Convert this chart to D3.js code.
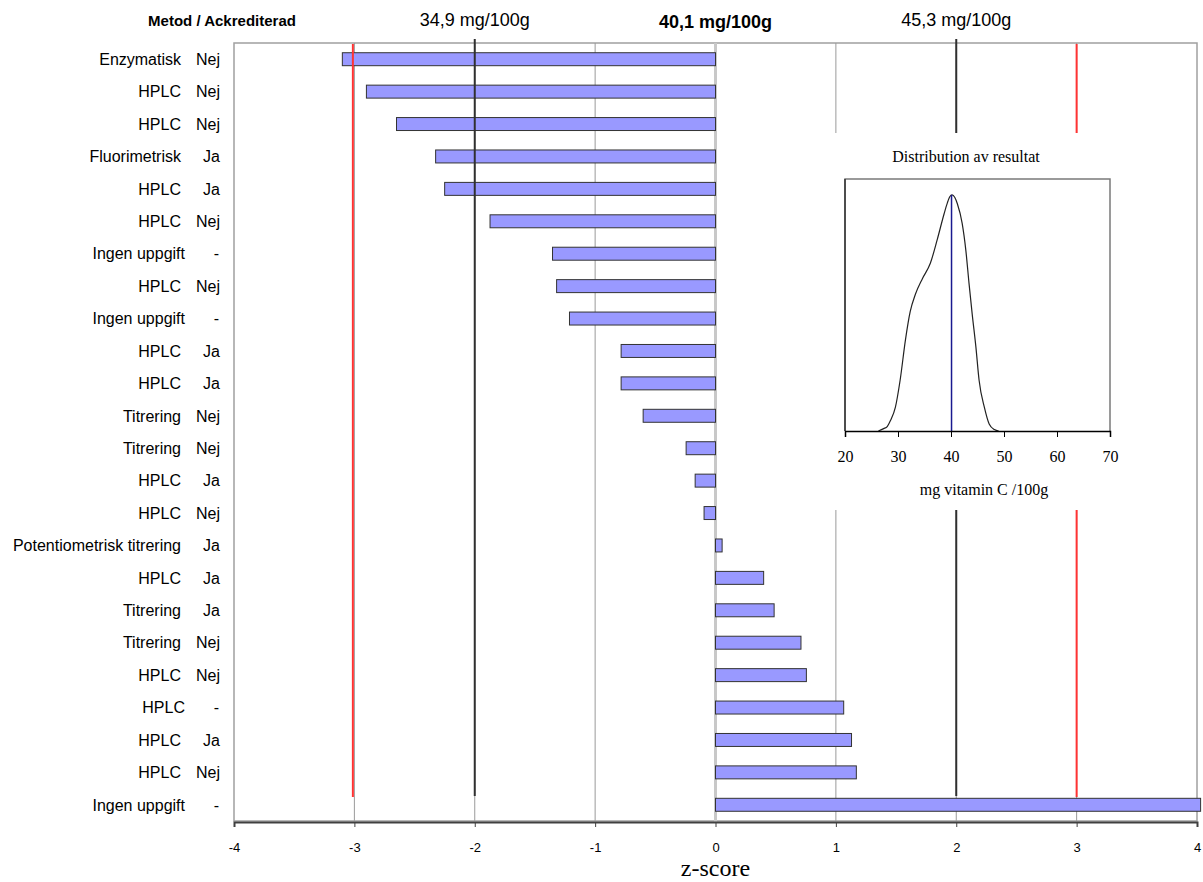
<!DOCTYPE html>
<html>
<head>
<meta charset="utf-8">
<script src="https://cdn.jsdelivr.net/npm/d3@7"></script>
<style>
  body { margin: 0; background: #fff; }
  svg { display: block; }
</style>
</head>
<body>
<div id="chart"></div>
<script>
// participants, top to bottom
const methods = ["Enzymatisk", "HPLC", "HPLC", "Fluorimetrisk", "HPLC", "HPLC", "Ingen uppgift", "HPLC",
    "Ingen uppgift", "HPLC", "HPLC", "Titrering", "Titrering", "HPLC", "HPLC", "Potentiometrisk titrering",
    "HPLC", "Titrering", "Titrering", "HPLC", "HPLC", "HPLC", "HPLC", "Ingen uppgift"];
const accredited = ["Nej", "Nej", "Nej", "Ja", "Ja", "Nej", "-", "Nej", "-", "Ja", "Ja", "Nej", "Nej",
    "Ja", "Nej", "Ja", "Ja", "Ja", "Nej", "Nej", "-", "Ja", "Nej", "-"];
const zScores = [-3.10, -2.90, -2.65, -2.325, -2.25, -1.873, -1.354, -1.32, -1.213, -0.784, -0.784, -0.601,
    -0.244, -0.169, -0.095, 0.055, 0.40, 0.487, 0.71, 0.755, 1.065, 1.13, 1.17, 4.03];

const zTicks = [-4, -3, -2, -1, 0, 1, 2, 3, 4];
const limitLabels = ["34,9 mg/100g", "40,1 mg/100g", "45,3 mg/100g"];
const limitZ = [-2, 0, 2];

// inset: distribution of results (relative density)
const distX = [26.3, 27.3, 28.0, 28.6, 29.5, 30.4, 31.4, 32.3, 33.3, 34.6, 36.1, 37.4, 38.7, 39.3, 39.8, 40.2,
    40.7, 41.2, 42.1, 42.8, 43.4, 44.0, 44.7, 45.3, 46.3, 47.2, 48.2, 49.0];
const distY = [0, 0.01, 0.02, 0.045, 0.10, 0.215, 0.385, 0.505, 0.58, 0.645, 0.71, 0.81, 0.92, 0.965, 0.993, 1.0,
    0.99, 0.962, 0.88, 0.765, 0.625, 0.495, 0.355, 0.215, 0.10, 0.03, 0.006, 0];
const distTicks = [20, 30, 40, 50, 60, 70];
const assignedValue = 40.1;

const W = 1203, H = 882;
const plot = {left: 234, right: 1197, top: 43, bottom: 821};

const svg = d3.select("#chart").append("svg")
    .attr("width", W)
    .attr("height", H);

const x = d3.scaleLinear()
    .domain([-4, 4])
    .range([plot.left, plot.right]);

const y = d3.scaleBand()
    .domain(d3.range(zScores.length))
    .range([plot.top, plot.bottom])
    .paddingInner(0.6)
    .paddingOuter(0.3);

// frame
svg.append("rect")
    .attr("x", plot.left)
    .attr("y", plot.top)
    .attr("width", plot.right - plot.left)
    .attr("height", plot.bottom - plot.top)
    .attr("fill", "none")
    .attr("stroke", "#a0a0a0")
    .attr("stroke-width", 1.5);

// gridlines
svg.append("g")
    .selectAll("line")
    .data(zTicks.filter(d => d !== 0 && Math.abs(d) !== 4))
    .enter().append("line")
    .attr("x1", d => x(d))
    .attr("x2", d => x(d))
    .attr("y1", plot.top)
    .attr("y2", plot.bottom)
    .attr("stroke", "#9a9a9a")
    .attr("stroke-width", 1);

// zero line
svg.append("line")
    .attr("x1", x(0)).attr("x2", x(0))
    .attr("y1", plot.top).attr("y2", plot.bottom + 1)
    .attr("stroke", "#c8c8c8")
    .attr("stroke-width", 3);

// bars
svg.append("g")
    .selectAll("rect")
    .data(zScores)
    .enter().append("rect")
    .attr("x", d => x(Math.min(0, d)))
    .attr("y", (d, i) => y(i))
    .attr("width", d => Math.abs(x(d) - x(0)))
    .attr("height", y.bandwidth())
    .attr("fill", "#9999ff")
    .attr("stroke", "#333")
    .attr("stroke-width", 1);

// limit lines |z| = 2 and |z| = 3
svg.append("g")
    .selectAll("line")
    .data([-2, 2])
    .enter().append("line")
    .attr("x1", d => x(d)).attr("x2", d => x(d))
    .attr("y1", 39).attr("y2", 796)
    .attr("stroke", "#303030")
    .attr("stroke-width", 2);

svg.append("g")
    .selectAll("line")
    .data([-3, 3])
    .enter().append("line")
    .attr("x1", d => x(d) - (d < 0 ? 1.5 : 0)).attr("x2", d => x(d) - (d < 0 ? 1.5 : 0))
    .attr("y1", 44).attr("y2", 797)
    .attr("stroke", "#ff3333")
    .attr("stroke-width", 2);

// x axis (hyphen minus like the original)
const xAxis = svg.append("g")
    .attr("transform", `translate(0,${plot.bottom + 1})`)
    .call(d3.axisBottom(x).tickValues(zTicks).tickSize(5).tickPadding(16).tickFormat(d => String(d)));
xAxis.select(".domain").attr("stroke", "#404040").attr("stroke-width", 2);
xAxis.selectAll(".tick line").attr("stroke", "#404040");
xAxis.selectAll("text")
    .attr("fill", "#000")
    .style("font-family", "Arial, 'Liberation Sans', sans-serif")
    .style("font-size", "13px");

svg.append("text")
    .attr("x", x(0))
    .attr("y", 876)
    .attr("text-anchor", "middle")
    .style("font-family", "'Times New Roman', 'Liberation Serif', serif")
    .style("font-size", "24px")
    .text("z-score");

// row labels
const rows = svg.append("g")
    .style("font-family", "Arial, 'Liberation Sans', sans-serif")
    .style("font-size", "16px");

rows.selectAll(".method")
    .data(methods)
    .enter().append("text")
    .attr("class", "method")
    .attr("x", (d, i) => accredited[i] === "-" ? 185 : 181)
    .attr("y", (d, i) => y(i) + y.bandwidth() / 2)
    .attr("dy", "0.36em")
    .attr("text-anchor", "end")
    .text(d => d);

rows.selectAll(".acc")
    .data(accredited)
    .enter().append("text")
    .attr("class", "acc")
    .attr("x", d => d === "-" ? 219 : 220)
    .attr("y", (d, i) => y(i) + y.bandwidth() / 2)
    .attr("dy", "0.36em")
    .attr("text-anchor", "end")
    .text(d => d);

// header
svg.append("text")
    .attr("x", 222)
    .attr("y", 26)
    .attr("text-anchor", "middle")
    .style("font-family", "Arial, 'Liberation Sans', sans-serif")
    .style("font-size", "15px")
    .style("font-weight", "bold")
    .text("Metod / Ackrediterad");

svg.append("g")
    .selectAll("text")
    .data(limitLabels)
    .enter().append("text")
    .attr("x", (d, i) => x(limitZ[i]))
    .attr("y", (d, i) => limitZ[i] === 0 ? 28 : 26)
    .attr("text-anchor", "middle")
    .style("font-family", "Arial, 'Liberation Sans', sans-serif")
    .style("font-size", "18px")
    .style("font-weight", (d, i) => limitZ[i] === 0 ? "bold" : "normal")
    .text(d => d);

// inset chart
const inset = svg.append("g");

inset.append("rect")
    .attr("x", 812)
    .attr("y", 133)
    .attr("width", 340)
    .attr("height", 377)
    .attr("fill", "#fff");

const xi = d3.scaleLinear().domain([20, 70]).range([845, 1110]);
const yi = d3.scaleLinear().domain([0, 1.067]).range([431, 179]);

inset.append("path")
    .attr("d", `M${xi(20)},${yi(0)}V${yi.range()[1]}H${xi(70)}V${yi(0)}`)
    .attr("fill", "none")
    .attr("stroke", "#7a7a7a")
    .attr("stroke-width", 1.5);
inset.append("line")
    .attr("x1", xi(20)).attr("x2", xi(20))
    .attr("y1", yi(0)).attr("y2", yi.range()[1])
    .attr("stroke", "#333")
    .attr("stroke-width", 1.5);

const line = d3.line()
    .x((d, i) => xi(distX[i]))
    .y(d => yi(d))
    .curve(d3.curveMonotoneX);

inset.append("path")
    .datum(distY)
    .attr("d", line)
    .attr("fill", "none")
    .attr("stroke", "#222")
    .attr("stroke-width", 1.2);

inset.append("line")
    .attr("x1", xi(assignedValue)).attr("x2", xi(assignedValue))
    .attr("y1", yi(0)).attr("y2", yi(1))
    .attr("stroke", "#1a1a90")
    .attr("stroke-width", 1.5);

const xiAxis = inset.append("g")
    .attr("transform", `translate(0,${yi(0)})`)
    .call(d3.axisBottom(xi).tickValues(distTicks).tickSize(6).tickPadding(14));
xiAxis.select(".domain").attr("stroke", "#000").attr("stroke-width", 1.5);
xiAxis.selectAll(".tick line").attr("stroke", "#000");
xiAxis.selectAll("text")
    .attr("fill", "#000")
    .style("font-family", "'Times New Roman', 'Liberation Serif', serif")
    .style("font-size", "16px");

inset.append("text")
    .attr("x", 966)
    .attr("y", 162)
    .attr("text-anchor", "middle")
    .style("font-family", "'Times New Roman', 'Liberation Serif', serif")
    .style("font-size", "16px")
    .text("Distribution av resultat");

inset.append("text")
    .attr("x", 984)
    .attr("y", 495)
    .attr("text-anchor", "middle")
    .style("font-family", "'Times New Roman', 'Liberation Serif', serif")
    .style("font-size", "16px")
    .text("mg vitamin C /100g");
</script>
</body>
</html>
